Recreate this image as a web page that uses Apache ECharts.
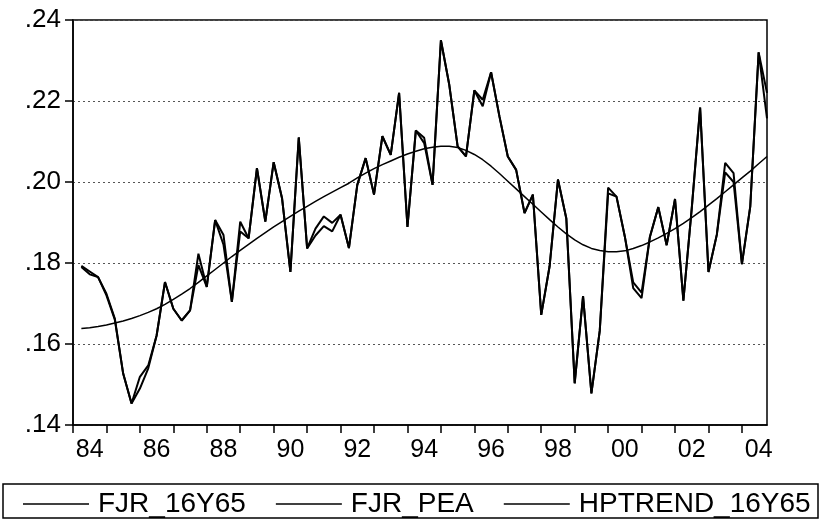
<!DOCTYPE html>
<html>
<head>
<meta charset="utf-8">
<script src="https://cdn.jsdelivr.net/npm/echarts@6/dist/echarts.min.js"></script>
<style>
  html, body { margin: 0; padding: 0; background: #fff; }
  #chart { width: 821px; height: 522px; }
</style>
</head>
<body>
<div id="chart"></div>
<script>
// quarterly sample, axis starts at 1984Q1 (no obs), data 1984Q2 - 2004Q4
var firstYear = 1984, lastYear = 2004;
var yTicks = [0.14, 0.16, 0.18, 0.20, 0.22, 0.24];
var seriesNames = ['FJR_16Y65', 'FJR_PEA', 'HPTREND_16Y65'];

var fjr16y65 = [
  null,
  .1793, .1779, .1765, .1724, .1663, .1527, .1453, .1519, .1547, .1621,
  .1753, .1687, .1658, .1683, .1823, .1741, .1906, .1869, .1704, .1902,
  .1861, .2034, .1902, .2049, .1960, .1778, .2110, .1836, .1885, .1915,
  .1899, .1919, .1837, .1993, .2059, .1969, .2113, .2067, .2220, .1889,
  .2127, .2109, .1993, .2350, .2240, .2088, .2063, .2226, .2187, .2271,
  .2162, .2063, .2030, .1923, .1969, .1672, .1792, .2006, .1910, .1503,
  .1718, .1478, .1633, .1986, .1964, .1865, .1738, .1713, .1865, .1938,
  .1844, .1958, .1707, .1935, .2184, .1778, .1870, .2047, .2022, .1797,
  .1940, .2320, .2220
];

var fjrPea = [
  null,
  .1790, .1772, .1765, .1720, .1660, .1527, .1453, .1490, .1540, .1621,
  .1753, .1687, .1658, .1683, .1795, .1741, .1906, .1845, .1704, .1878,
  .1861, .2034, .1902, .2049, .1960, .1778, .2110, .1836, .1868, .1891,
  .1878, .1919, .1837, .1993, .2059, .1969, .2113, .2067, .2220, .1889,
  .2127, .2096, .1993, .2350, .2240, .2088, .2063, .2226, .2203, .2271,
  .2162, .2063, .2030, .1923, .1969, .1672, .1792, .2006, .1910, .1503,
  .1718, .1478, .1633, .1972, .1964, .1865, .1752, .1727, .1865, .1938,
  .1844, .1958, .1707, .1935, .2184, .1778, .1870, .2024, .2000, .1797,
  .1940, .2320, .2157
];

var hpTrend = [
  null,
  .1638, .1640, .1643, .1647, .1652, .1657, .1663, .1670, .1678, .1687,
  .1698, .1710, .1723, .1737, .1752, .1768, .1784, .1800, .1816, .1831,
  .1846, .1861, .1875, .1889, .1902, .1915, .1928, .1940, .1952, .1964,
  .1975, .1986, .1997, .2010, .2022, .2033, .2043, .2052, .2061, .2069,
  .2076, .2082, .2086, .2088, .2088, .2085, .2078, .2068, .2055, .2039,
  .2021, .2002, .1983, .1964, .1945, .1926, .1907, .1889, .1872, .1857,
  .1845, .1836, .1831, .1828, .1828, .1830, .1836, .1843, .1852, .1862,
  .1873, .1885, .1898, .1912, .1927, .1943, .1959, .1976, .1993, .2010,
  .2027, .2045, .2063
];

var quarters = [];
for (var y = firstYear; y <= lastYear; y++) {
  for (var q = 1; q <= 4; q++) quarters.push(y + 'Q' + q);
}

var font = '"Liberation Sans", Arial, sans-serif';
var myChart = echarts.init(document.getElementById('chart'));

function lineSeries(name, data, width) {
  return {
    name: name,
    type: 'line',
    data: data,
    symbol: 'none',
    connectNulls: false,
    silent: true,
    lineStyle: { color: '#000', width: width },
    itemStyle: { color: '#000' }
  };
}

myChart.setOption({
  animation: false,
  backgroundColor: '#fff',
  grid: {
    left: 73, top: 20, width: 694, height: 405,
    show: true, borderColor: '#000', borderWidth: 1.5,
    containLabel: false
  },
  legend: {
    data: seriesNames,
    left: 18, top: 485,
    icon: 'rect',
    itemWidth: 66, itemHeight: 1.5, itemGap: 30,
    itemStyle: { color: '#000', borderWidth: 0 },
    lineStyle: { width: 0 },
    textStyle: { fontFamily: font, fontSize: 28, color: '#000', padding: [0, 0, 0, 4] }
  },
  graphic: [{
    type: 'rect',
    shape: { x: 3, y: 484, width: 815, height: 34 },
    style: { fill: 'none', stroke: '#000', lineWidth: 1.5 }
  }],
  xAxis: {
    type: 'category',
    data: quarters,
    boundaryGap: false,
    axisLine: { lineStyle: { color: '#000', width: 1.5 } },
    axisTick: {
      length: 8, inside: false,
      interval: function (i) { return i % 4 === 0; },
      lineStyle: { color: '#000', width: 1.5 }
    },
    axisLabel: {
      interval: function (i) { return i % 8 === 2; },
      formatter: function (v) { return v.slice(2, 4); },
      fontFamily: font, fontSize: 25, color: '#000', margin: 13
    },
    splitLine: { show: false }
  },
  yAxis: {
    type: 'value',
    min: yTicks[0], max: yTicks[yTicks.length - 1], interval: 0.02,
    axisLine: { show: true, lineStyle: { color: '#000', width: 1.5 } },
    axisTick: { show: true, length: 8, lineStyle: { color: '#000', width: 1.5 } },
    axisLabel: {
      formatter: function (v) { return v.toFixed(2).replace(/^0/, ''); },
      fontFamily: font, fontSize: 26, color: '#000', margin: 12
    },
    splitLine: { show: true, lineStyle: { color: '#555', type: [2, 3], width: 1 } }
  },
  series: [
    lineSeries(seriesNames[0], fjr16y65, 2),
    lineSeries(seriesNames[1], fjrPea, 2),
    lineSeries(seriesNames[2], hpTrend, 1.5)
  ]
});
</script>
</body>
</html>
